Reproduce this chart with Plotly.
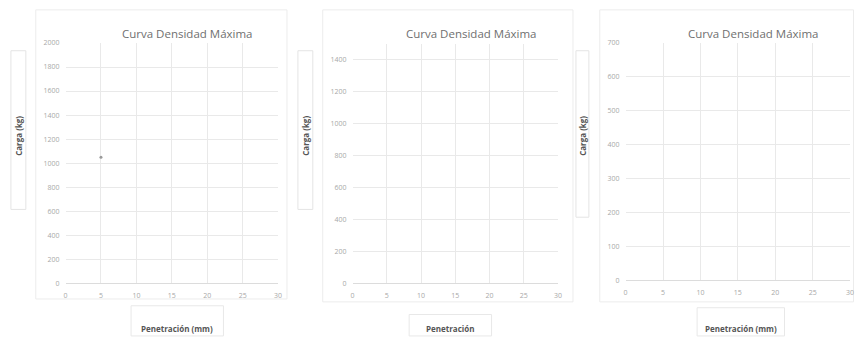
import plotly.graph_objects as go

W, H = 858, 338

# ---- data ----
titles = ["Curva Densidad Máxima", "Curva Densidad Máxima", "Curva Densidad Máxima"]
y_titles = ["Carga (kg)", "Carga (kg)", "Carga (kg)"]
x_titles = ["Penetración (mm)", "Penetración", "Penetración (mm)"]
x_ticks = [0, 5, 10, 15, 20, 25, 30]
y_ticks_1 = [0, 200, 400, 600, 800, 1000, 1200, 1400, 1600, 1800, 2000]
y_ticks_2 = [0, 200, 400, 600, 800, 1000, 1200, 1400]
y_ticks_3 = [0, 100, 200, 300, 400, 500, 600, 700]
y_max = [2000, 1500, 700]
# stray point visible in first chart
pen_1 = [5]
load_1 = [1050]

def px(x):
    return x / W

def py(y):
    return 1 - y / H

# plot-area pixel boxes (left, right, top, bottom)
areas = [(64, 278, 39, 286), (353, 560, 40, 286), (628, 854, 39, 283)]
frames = [(34, 287, 5, 302), (323, 575, 5, 305), (602, 857.5, 5, 305)]
ytitle_boxes = [(9, 24, 47, 210), (298, 313, 47, 210), (578, 591, 47, 218)]
xtitle_boxes = [(130, 223, 309, 340), (410, 493, 318, 340), (700, 788, 311, 340)]
title_x = [187, 473, 757]
yticks = [y_ticks_1, y_ticks_2, y_ticks_3]

fig = go.Figure()

grid = "#e9e9e9"
tick_font = dict(family="Open Sans", size=7, color="#a8a8a8")

layout = dict(
    width=W, height=H,
    margin=dict(l=0, r=0, t=0, b=0),
    paper_bgcolor="white", plot_bgcolor="white",
    showlegend=False,
    shapes=[], annotations=[],
)

for i in range(3):
    l, r, t, b = areas[i]
    xa = "xaxis" if i == 0 else f"xaxis{i+1}"
    ya = "yaxis" if i == 0 else f"yaxis{i+1}"
    xref = "x" if i == 0 else f"x{i+1}"
    yref = "y" if i == 0 else f"y{i+1}"
    layout[xa] = dict(
        domain=[px(l), px(r)], range=[0, 30], anchor=yref,
        tickvals=x_ticks, showgrid=True, gridcolor=grid, gridwidth=1,
        zeroline=False, showline=True, linecolor="#dcdcdc",
        tickfont=tick_font, ticks="", ticklabelstandoff=5, fixedrange=True,
    )
    layout[ya] = dict(
        domain=[py(b), py(t)], range=[0, y_max[i]], anchor=xref,
        tickvals=yticks[i], showgrid=True, gridcolor=grid, gridwidth=1,
        zeroline=False, showline=False,
        tickfont=tick_font, ticks="", ticklabelstandoff=5, fixedrange=True,
    )
    # chart frame
    fl, fr, ft, fb = frames[i]
    layout["shapes"].append(dict(type="rect", xref="paper", yref="paper",
                                 x0=px(fl), x1=px(fr), y0=py(fb), y1=py(ft),
                                 line=dict(color="#ececec", width=1), layer="below"))
    # y title box
    bl, br, bt, bb = ytitle_boxes[i]
    layout["shapes"].append(dict(type="rect", xref="paper", yref="paper",
                                 x0=px(bl), x1=px(br), y0=py(bb), y1=py(bt),
                                 line=dict(color="#e4e4e4", width=1)))
    layout["annotations"].append(dict(
        text="<b>" + y_titles[i] + "</b>", xref="paper", yref="paper",
        x=px((bl + br) / 2), y=py(134), textangle=-90, showarrow=False,
        font=dict(family="Open Sans", size=8, color="#555555"),
        xanchor="center", yanchor="middle"))
    # x title box
    bl, br, bt, bb = xtitle_boxes[i]
    layout["shapes"].append(dict(type="rect", xref="paper", yref="paper",
                                 x0=px(bl), x1=px(br), y0=py(bb), y1=py(bt),
                                 line=dict(color="#e8e8e8", width=1)))
    layout["annotations"].append(dict(
        text="<b>" + x_titles[i] + "</b>", xref="paper", yref="paper",
        x=px((bl + br) / 2), y=py(339), showarrow=False, borderpad=0,
        font=dict(family="Open Sans", size=8, color="#555555"),
        xanchor="center", yanchor="bottom"))
    # chart title
    layout["annotations"].append(dict(
        text=titles[i], xref="paper", yref="paper",
        x=px(title_x[i]), y=py(29), showarrow=False,
        font=dict(family="Open Sans", size=11.5, color="#6f6f6f"),
        xanchor="center", yanchor="middle"))

fig.add_trace(go.Scatter(x=pen_1, y=load_1, mode="markers",
                         marker=dict(size=3, color="#9a9a9a"),
                         xaxis="x", yaxis="y", hoverinfo="skip"))
fig.add_trace(go.Scatter(x=[], y=[], xaxis="x2", yaxis="y2"))
fig.add_trace(go.Scatter(x=[], y=[], xaxis="x3", yaxis="y3"))

fig.update_layout(**layout)
fig.write_html("out.html", config={"displayModeBar": False},
               post_script="document.body.style.margin='0';document.body.style.overflow='hidden';")
